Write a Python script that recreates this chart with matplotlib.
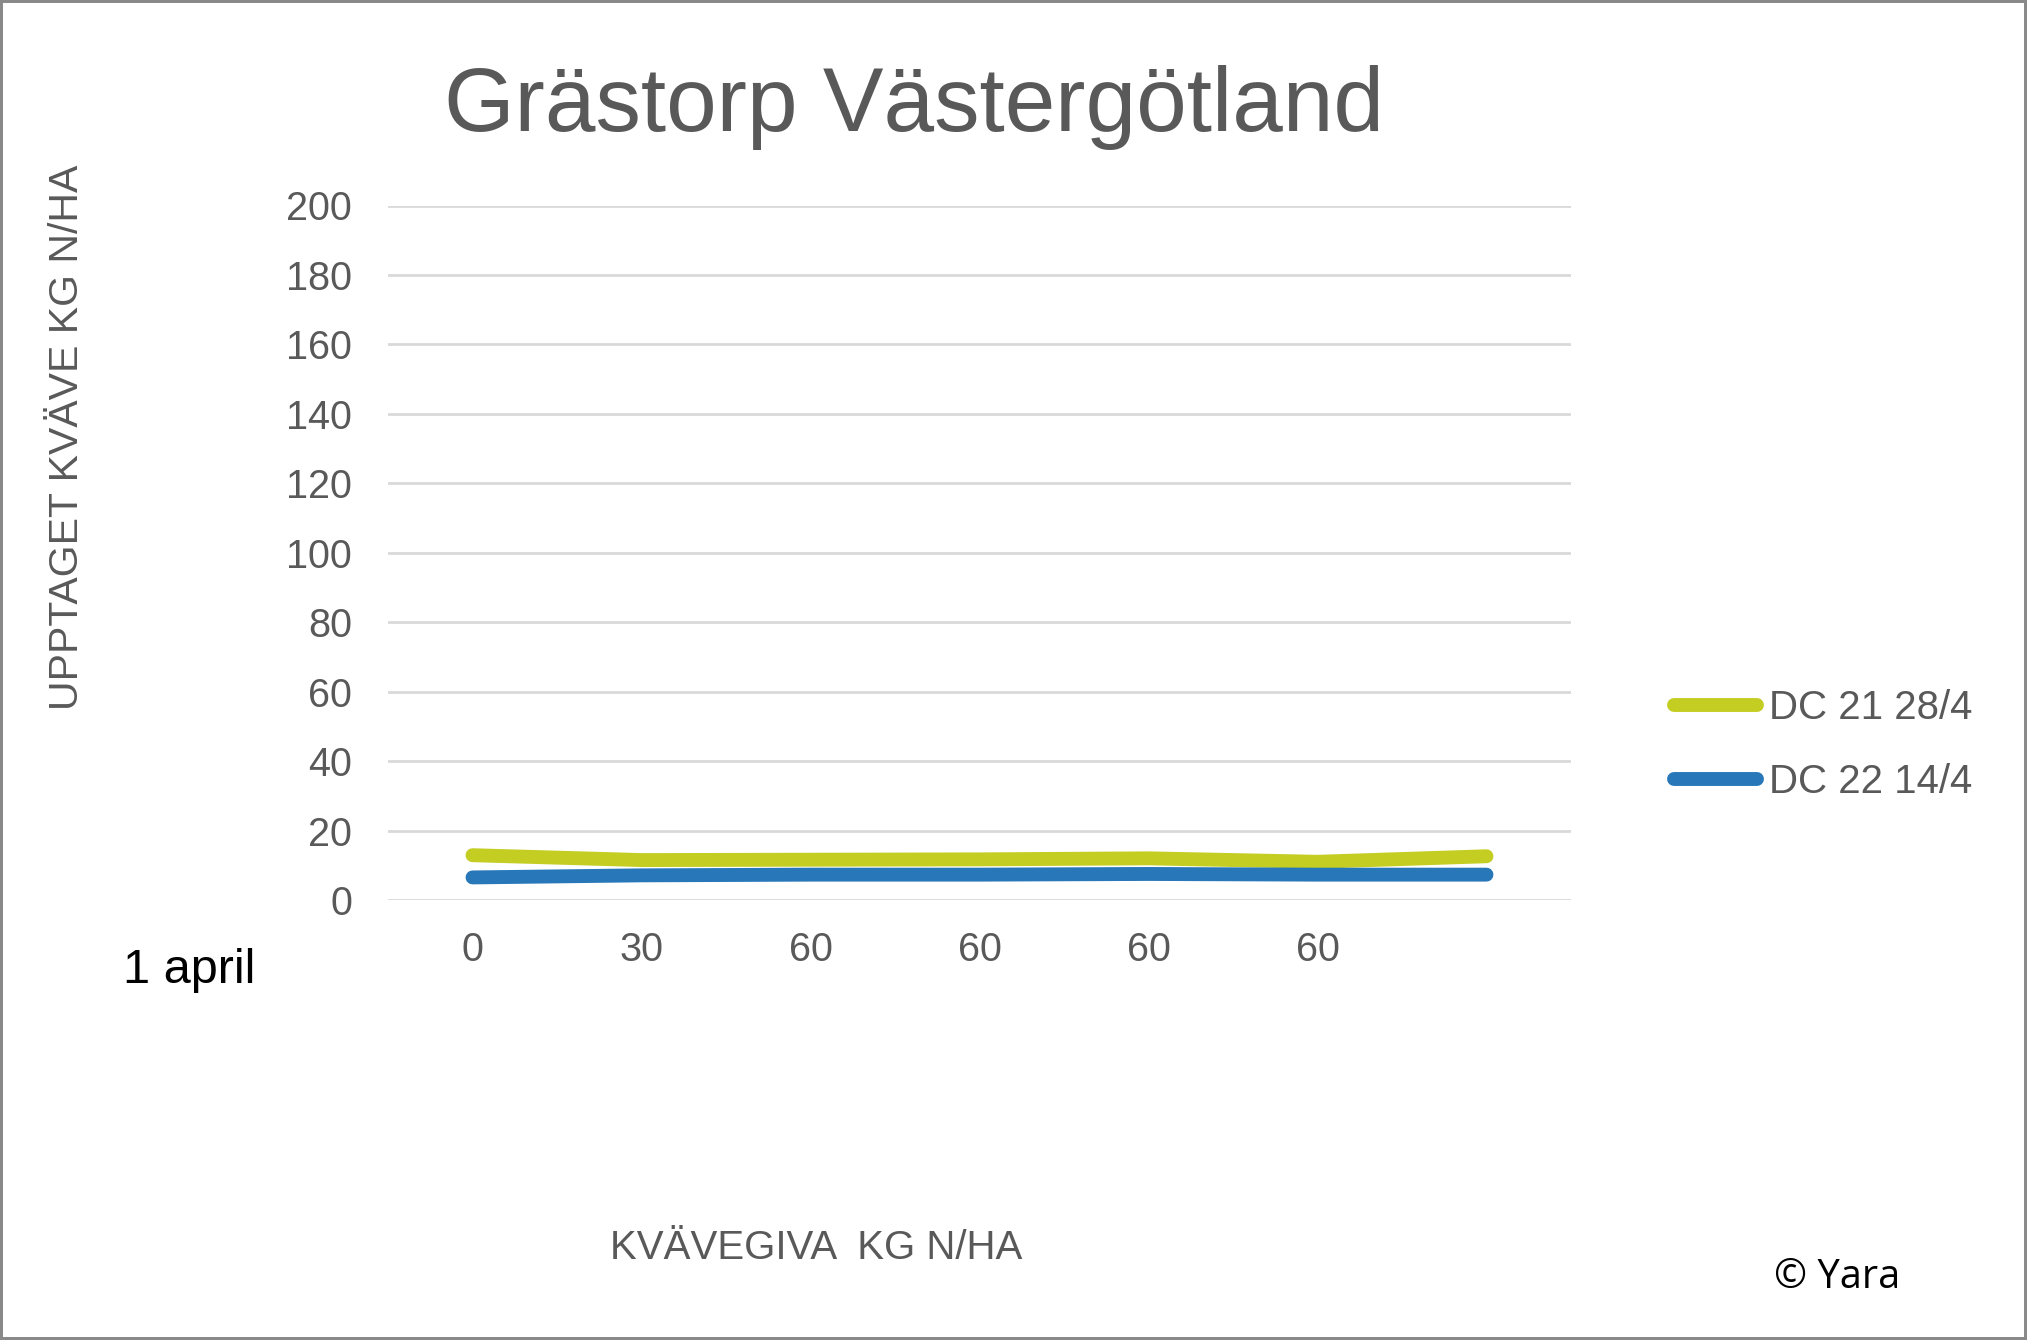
import matplotlib
matplotlib.use("Agg")
import matplotlib.pyplot as plt
from matplotlib.patches import Rectangle

W, H = 2027, 1340
DPI = 100

# data
categories = ["0", "30", "60", "60", "60", "60", ""]
dc21_28apr = [12.9, 11.5, 11.6, 11.7, 12.0, 11.0, 12.6]
dc22_14apr = [6.5, 7.1, 7.3, 7.3, 7.5, 7.3, 7.3]
series_names = ["DC 21 28/4", "DC 22 14/4"]
yticks = list(range(0, 201, 20))

GREY = "#595959"
GREEN = "#C3CD22"
BLUE = "#2777B9"

plt.rcParams["font.family"] = ["Liberation Sans", "DejaVu Sans"]


def fx(x):
    return x / W


def fy(y):
    return 1 - y / H


fig = plt.figure(figsize=(W / DPI, H / DPI), dpi=DPI)
ax = fig.add_axes([fx(388), fy(900), fx(1571) - fx(388), fy(205.5) - fy(900)])

xs = range(len(categories))
ax.plot(xs, dc21_28apr, color=GREEN, lw=10, solid_capstyle="round", label=series_names[0])
ax.plot(xs, dc22_14apr, color=BLUE, lw=10, solid_capstyle="round", label=series_names[1])

ax.set_xlim(-0.5, len(categories) - 0.5)
ax.set_ylim(0, 200)
ax.set_yticks(yticks)
ax.set_xticks(list(xs))
ax.set_xticklabels(categories)
ax.yaxis.grid(True, color="#D9D9D9", lw=2.0)
ax.set_axisbelow(True)
for s in ax.spines.values():
    s.set_visible(False)
ax.tick_params(axis="y", length=0, pad=26, labelsize=28.5, labelcolor=GREY)
ax.tick_params(axis="x", length=0, pad=22, labelsize=28.5, labelcolor=GREY)

fig.text(fx(914.5), fy(131), "Grästorp Västergötland", ha="center", va="baseline",
         fontsize=65.4, color=GREY)
fig.text(fx(67), fy(437), "UPPTAGET KVÄVE KG N/HA", rotation=90, ha="center",
         va="center", fontsize=29.5, color=GREY)
fig.text(fx(816), fy(1248), "KVÄVEGIVA  KG N/HA", ha="center", va="center",
         fontsize=29, color=GREY)
fig.text(fx(123), fy(983), "1 april", ha="left", va="baseline", fontsize=35, color="black")
fig.text(fx(1774), fy(1288), "© Yara", ha="left", va="baseline", fontsize=28.6,
         color="black", family=["Open Sans", "DejaVu Sans"])

fig.legend(loc="center left", bbox_to_anchor=(fx(1674), fy(745)), frameon=False,
           fontsize=29, labelcolor=GREY, handlelength=2.05, handletextpad=0.3,
           labelspacing=0.9, borderaxespad=0, borderpad=0)

fig.patches.append(Rectangle((0, 0), 1, 1, transform=fig.transFigure, fill=False,
                             edgecolor="#898989", lw=4.3, zorder=10))

fig.savefig("out.png", dpi=DPI)
